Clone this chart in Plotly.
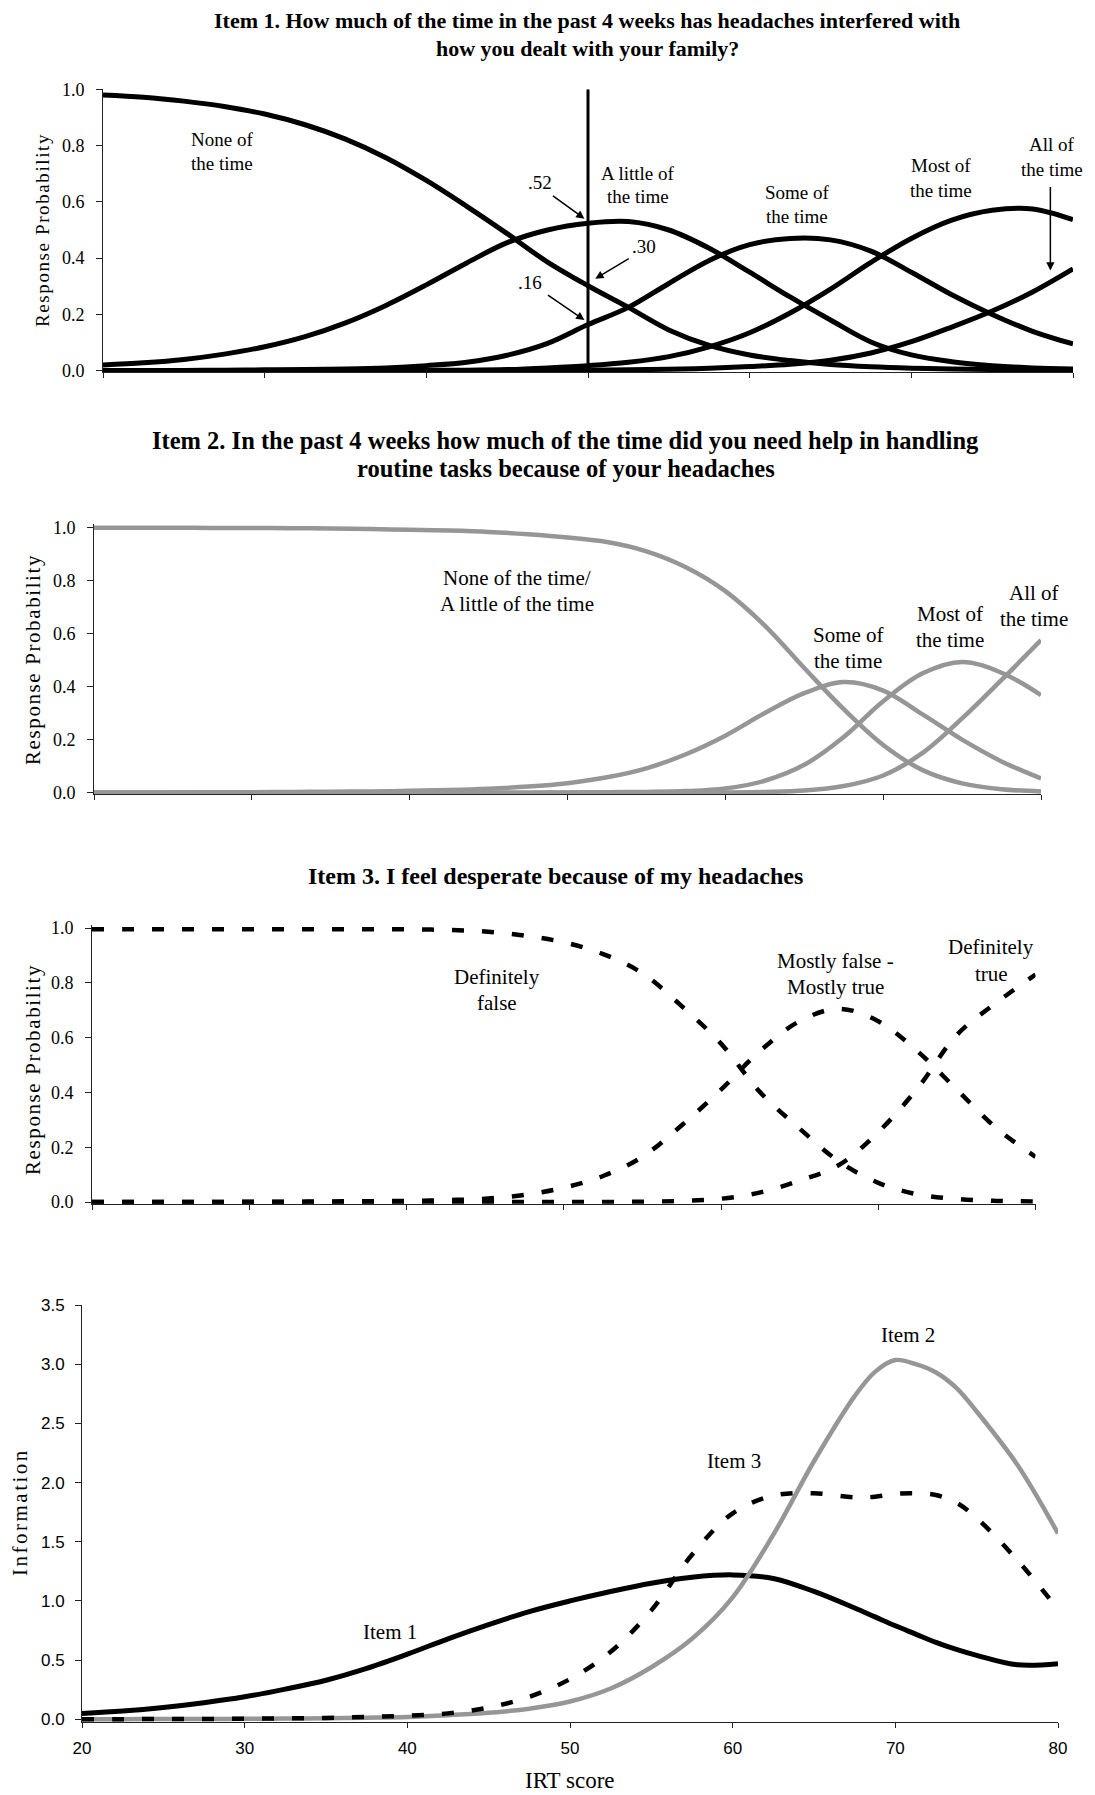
import plotly.graph_objects as go

# Page size and the default 8px body margin of the written html page
PAGE_W, PAGE_H = 1095, 1795
OFF = 8
FW, FH = PAGE_W - OFF, PAGE_H - OFF

# ---------------- data ----------------
irt = [20, 22.5, 25, 27.5, 30, 32.5, 35, 37.5, 40, 42.5, 45, 47.5, 50,
       52.5, 55, 57.5, 60, 62.5, 65, 67.5, 70, 72.5, 75, 77.5, 80]
irt_info = [20, 22.5, 25, 27.5, 30, 32.5, 35, 37.5, 40, 42.5, 45, 47.5, 50,
            52.5, 55, 57.5, 60, 62.5, 65, 67.5, 68.75, 70, 71.25, 72.5, 73.75, 75, 77.5, 80]
x_ticks = [20, 30, 40, 50, 60, 70, 80]
prob_ticks = [0.0, 0.2, 0.4, 0.6, 0.8, 1.0]
prob_ticktext = ["0.0", "0.2", "0.4", "0.6", "0.8", "1.0"]
info_ticks = [0.0, 0.5, 1.0, 1.5, 2.0, 2.5, 3.0, 3.5]
info_ticktext = ["0.0", "0.5", "1.0", "1.5", "2.0", "2.5", "3.0", "3.5"]

# Item 1 category response curves
i1_none = [0.980, 0.972, 0.958, 0.939, 0.912, 0.874, 0.823, 0.757, 0.676, 0.584, 0.487, 0.386, 0.302,
           0.225, 0.145, 0.090, 0.056, 0.036, 0.022, 0.014, 0.009, 0.006, 0.004, 0.002, 0.001]
i1_little = [0.020, 0.028, 0.040, 0.059, 0.085, 0.121, 0.170, 0.232, 0.305, 0.383, 0.455, 0.500, 0.524,
             0.530, 0.500, 0.435, 0.350, 0.262, 0.180, 0.102, 0.056, 0.032, 0.018, 0.010, 0.006]
i1_some = [0.0005, 0.001, 0.001, 0.002, 0.003, 0.004, 0.006, 0.010, 0.018, 0.030, 0.055, 0.097, 0.164,
           0.225, 0.310, 0.392, 0.448, 0.470, 0.465, 0.425, 0.350, 0.270, 0.200, 0.140, 0.095]
i1_most = [0.0, 0.0, 0.0, 0.0, 0.0, 0.001, 0.001, 0.001, 0.002, 0.002, 0.004, 0.010, 0.018,
           0.030, 0.050, 0.085, 0.135, 0.205, 0.290, 0.385, 0.470, 0.535, 0.570, 0.575, 0.537]
i1_all = [0.0, 0.0, 0.0, 0.0, 0.0, 0.0, 0.0, 0.0, 0.0, 0.0, 0.001, 0.001, 0.002,
          0.003, 0.005, 0.009, 0.015, 0.023, 0.037, 0.063, 0.103, 0.155, 0.212, 0.280, 0.362]
marker_score = 50
marker_line = [0.0, 1.0]

# Item 2 category response curves
i2_none_little = [0.999, 0.999, 0.999, 0.998, 0.998, 0.997, 0.996, 0.994, 0.991, 0.988, 0.983, 0.974, 0.962,
                  0.945, 0.910, 0.850, 0.760, 0.630, 0.470, 0.315, 0.180, 0.085, 0.035, 0.013, 0.005]
i2_some = [0.001, 0.001, 0.001, 0.002, 0.002, 0.003, 0.004, 0.005, 0.007, 0.010, 0.015, 0.023, 0.036,
           0.058, 0.092, 0.145, 0.215, 0.300, 0.375, 0.417, 0.385, 0.295, 0.200, 0.118, 0.054]
i2_most = [0.0, 0.0, 0.0, 0.0, 0.0, 0.0, 0.0, 0.0, 0.0, 0.0, 0.0, 0.0, 0.001,
           0.002, 0.003, 0.006, 0.016, 0.045, 0.105, 0.210, 0.345, 0.450, 0.493, 0.452, 0.368]
i2_all = [0.0, 0.0, 0.0, 0.0, 0.0, 0.0, 0.0, 0.0, 0.0, 0.0, 0.0, 0.0, 0.0,
          0.0, 0.0, 0.0, 0.001, 0.003, 0.008, 0.025, 0.065, 0.150, 0.280, 0.425, 0.575]

# Item 3 category response curves
i3_def_false = [0.995, 0.995, 0.995, 0.995, 0.995, 0.995, 0.995, 0.995, 0.995, 0.993, 0.987, 0.972, 0.948,
                0.905, 0.835, 0.715, 0.578, 0.400, 0.268, 0.148, 0.070, 0.028, 0.011, 0.004, 0.002]
i3_mostly = [0.0, 0.0, 0.0, 0.0, 0.001, 0.001, 0.002, 0.003, 0.004, 0.007, 0.012, 0.026, 0.052,
             0.095, 0.165, 0.280, 0.410, 0.552, 0.660, 0.705, 0.660, 0.550, 0.410, 0.270, 0.165]
i3_def_true = [0.0, 0.0, 0.0, 0.0, 0.0, 0.0, 0.0, 0.0, 0.0, 0.0, 0.0, 0.0, 0.0,
               0.0, 0.001, 0.004, 0.012, 0.035, 0.078, 0.135, 0.255, 0.415, 0.610, 0.727, 0.830]

# Item information (on irt_info grid)
info_item1 = [0.05, 0.07, 0.10, 0.14, 0.19, 0.255, 0.33, 0.43, 0.55, 0.68, 0.80, 0.91, 1.00,
              1.08, 1.15, 1.20, 1.22, 1.19, 1.08, 0.94, 0.865, 0.79, 0.72, 0.65, 0.59, 0.54, 0.46, 0.47]
info_item2 = [0.0, 0.001, 0.002, 0.003, 0.004, 0.006, 0.008, 0.013, 0.020, 0.035, 0.055, 0.090, 0.150,
              0.260, 0.440, 0.680, 1.030, 1.560, 2.180, 2.730, 2.935, 3.035, 3.000, 2.930, 2.800,
              2.600, 2.150, 1.570]
info_item3 = [0.0, 0.001, 0.002, 0.003, 0.005, 0.008, 0.012, 0.020, 0.030, 0.050, 0.100, 0.190, 0.340,
              0.570, 0.920, 1.390, 1.740, 1.890, 1.910, 1.875, 1.880, 1.905, 1.910, 1.895, 1.830,
              1.700, 1.345, 0.930]

# ---------------- styles ----------------
BLACK = "#000000"
GRAY = "#969696"
SERIF = "Liberation Serif"
SANS = "Liberation Sans"
DASH = "12px,18px"


def fx(px):
    return (px - OFF) / FW


def fy(py):
    return 1 - (py - OFF) / FH


def xdom(p20, p80):
    return [fx(p20), fx(p80)]


def ydom(p0, ptop, vtop, lo, hi):
    k = (p0 - ptop) / vtop
    bottom = p0 + (0 - lo) * k
    top = ptop - (hi - vtop) * k
    return [fy(bottom), fy(top)]


fig = go.Figure()


def add_curve(xs, y, ax, color, width, dash="solid"):
    fig.add_trace(go.Scatter(
        x=xs, y=y, mode="lines", xaxis=ax[0], yaxis=ax[1],
        line=dict(color=color, width=width, dash=dash, shape="spline", smoothing=1.0),
        showlegend=False, hoverinfo="skip"))


# Panel 1
for series in [i1_none, i1_little, i1_some, i1_most, i1_all]:
    add_curve(irt, series, ("x", "y"), BLACK, 5)
fig.add_trace(go.Scatter(x=[marker_score, marker_score], y=marker_line, mode="lines",
                         xaxis="x", yaxis="y", line=dict(color=BLACK, width=3),
                         showlegend=False, hoverinfo="skip"))
# Panel 2
for series in [i2_none_little, i2_some, i2_most, i2_all]:
    add_curve(irt, series, ("x2", "y2"), GRAY, 4.5)
# Panel 3
for series in [i3_def_false, i3_mostly, i3_def_true]:
    add_curve(irt, series, ("x3", "y3"), BLACK, 4.5, DASH)
# Panel 4
add_curve(irt_info, info_item1, ("x4", "y4"), BLACK, 5)
add_curve(irt_info, info_item2, ("x4", "y4"), GRAY, 4.5)
add_curve(irt_info, info_item3, ("x4", "y4"), BLACK, 4.5, DASH)

axis_common = dict(showgrid=False, zeroline=False, showline=True, linecolor="#222222",
                   linewidth=1, ticks="outside", tickcolor="#222222", automargin=False)
LO = -0.006

fig.update_layout(
    width=FW, height=FH, autosize=False,
    template="none",
    paper_bgcolor="white", plot_bgcolor="white",
    margin=dict(l=0, r=0, t=0, b=0),
    font=dict(family=SERIF, color=BLACK),
    showlegend=False,
    xaxis=dict(domain=xdom(103, 1073), range=[20, 80], tickvals=x_ticks, showticklabels=False,
               ticklen=5, anchor="y", **axis_common),
    yaxis=dict(domain=ydom(370.7, 89.3, 1.0, LO, 1.0), range=[LO, 1.0], tickvals=prob_ticks,
               ticktext=prob_ticktext, ticklen=6, ticklabelstandoff=8,
               tickfont=dict(family=SERIF, size=18, color=BLACK), anchor="x", **axis_common),
    xaxis2=dict(domain=xdom(94, 1041), range=[20, 80], tickvals=x_ticks, showticklabels=False,
                ticklen=5, anchor="y2", **axis_common),
    yaxis2=dict(domain=ydom(792.7, 527.4, 1.0, LO, 1.012), range=[LO, 1.012], tickvals=prob_ticks,
                ticktext=prob_ticktext, ticklen=6, ticklabelstandoff=8,
                tickfont=dict(family=SERIF, size=18, color=BLACK), anchor="x2", **axis_common),
    xaxis3=dict(domain=xdom(92, 1035.5), range=[20, 80], tickvals=x_ticks, showticklabels=False,
                ticklen=5, anchor="y3", **axis_common),
    yaxis3=dict(domain=ydom(1202, 928, 1.0, LO, 1.012), range=[LO, 1.012], tickvals=prob_ticks,
                ticktext=prob_ticktext, ticklen=6, ticklabelstandoff=8,
                tickfont=dict(family=SERIF, size=18, color=BLACK), anchor="x3", **axis_common),
    xaxis4=dict(domain=xdom(82, 1058), range=[20, 80], tickvals=x_ticks, ticklen=5,
                ticklabelstandoff=5, tickfont=dict(family=SANS, size=17, color=BLACK),
                anchor="y4", **axis_common),
    yaxis4=dict(domain=ydom(1719.3, 1305, 3.5, -0.025, 3.5), range=[-0.025, 3.5], tickvals=info_ticks,
                ticktext=info_ticktext, ticklen=6, ticklabelstandoff=7,
                tickfont=dict(family=SANS, size=17, color=BLACK), anchor="x4", **axis_common),
)

annotations = []


def text_at(text, px, py, size, bold=False, angle=0, family=SERIF):
    annotations.append(dict(
        x=fx(px), y=fy(py), xref="paper", yref="paper", text=text, showarrow=False,
        xanchor="center", yanchor="middle", textangle=angle,
        font=dict(family=family, size=size, color=BLACK, weight="bold" if bold else "normal")))


# Titles
text_at("Item 1. How much of the time in the past 4 weeks has headaches interfered with", 587, 21, 22, bold=True)
text_at("how you dealt with your family?", 587, 48, 22, bold=True)
text_at("Item 2. In the past 4 weeks how much of the time did you need help in handling", 566, 440, 24.5, bold=True)
text_at("routine tasks because of your headaches", 566, 469, 24.5, bold=True)
text_at("Item 3. I feel desperate because of my headaches", 555, 876, 24, bold=True)

# Axis titles
sp = '<span style="letter-spacing:1.6px">{}</span>'
text_at(sp.format("Response Probability"), 43, 230, 19, angle=-90)
text_at(sp.format("Response Probability"), 33, 660, 21, angle=-90)
text_at(sp.format("Response Probability"), 33, 1070, 21, angle=-90)
text_at('<span style="letter-spacing:2.5px">Information</span>', 20, 1512, 21, angle=-90)
text_at("IRT score", 570, 1780, 23)

# Panel 1 labels
for t, px, py in [("None of", 222, 139), ("the time", 222, 163),
                  ("A little of", 638, 173), ("the time", 638, 197),
                  ("Some of", 797, 192), ("the time", 797, 216),
                  ("Most of", 941, 166), ("the time", 941, 190),
                  ("All of", 1052, 145), ("the time", 1052, 169),
                  (".52", 540, 182), (".30", 644, 246), (".16", 530, 283)]:
    text_at(t, px, py, 19)

# Panel 2 labels
for t, px, py in [("None of the time/", 517, 578), ("A little of the time", 517, 604),
                  ("Some of", 848, 635), ("the time", 848, 661),
                  ("Most of", 950, 614), ("the time", 950, 640),
                  ("All of", 1034, 593), ("the time", 1034, 619)]:
    text_at(t, px, py, 21)

# Panel 3 labels
for t, px, py in [("Definitely", 497, 977), ("false", 497, 1003),
                  ("Mostly false -", 835, 961), ("Mostly true", 835, 987),
                  ("Definitely", 991, 947), ("true", 991, 974)]:
    text_at(t, px, py, 21)

# Panel 4 labels
for t, px, py in [("Item 2", 908, 1335), ("Item 3", 734, 1461), ("Item 1", 390, 1632)]:
    text_at(t, px, py, 21)

# Arrows (panel 1), head in data coordinates, tail offset in pixels
for hx, hy, dx, dy in [(49.78, 0.54, -33, -24), (50.45, 0.327, 35, -21),
                       (49.78, 0.18, -38, -26), (78.6, 0.356, 0, -85)]:
    annotations.append(dict(x=hx, y=hy, xref="x", yref="y", ax=dx, ay=dy, text="",
                            showarrow=True, arrowhead=2, arrowsize=1.1, arrowwidth=1.5,
                            arrowcolor=BLACK))

fig.update_layout(annotations=annotations)

fig.write_html("out.html")
